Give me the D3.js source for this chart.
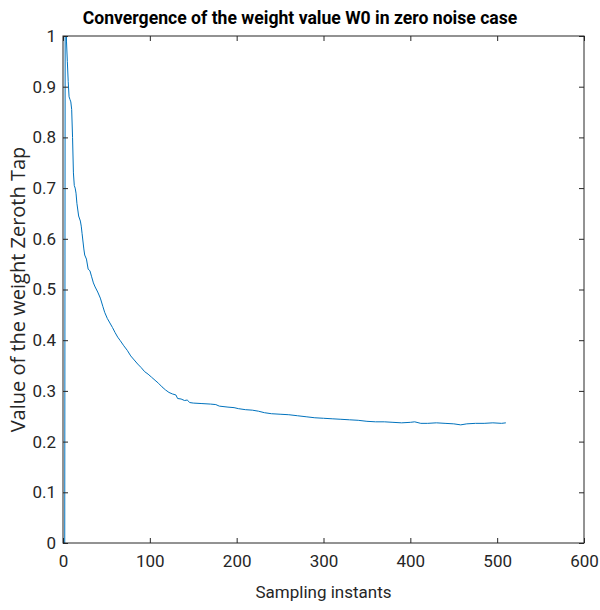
<!DOCTYPE html>
<html><head><meta charset="utf-8">
<script src="https://cdn.jsdelivr.net/npm/d3@7"></script>
<style>body{margin:0;background:#fff}svg{display:block}</style>
</head><body>
<svg id="c" width="600" height="610"></svg>
<script>
const title = "Convergence of the weight value W0 in zero noise case";
const xLabel = "Sampling instants";
const yLabel = "Value of the weight Zeroth Tap";
const xTicks = [0,100,200,300,400,500,600];
const yTicks = [0,0.1,0.2,0.3,0.4,0.5,0.6,0.7,0.8,0.9,1];
const sampleIdx = [0,1,2,3,4,5,6,7,8,9,10,11,12,13,14,15,16,18,20,21,22,24,25,27,29,31,33,35,37,40,43,46,48,51,54,57,60,63,66,70,74,78,82,86,90,94,98,102,106,110,114,118,122,126,130,132,136,140,143,146,150,160,170,176,180,190,197,202,210,218,225,232,240,250,260,270,280,290,300,310,320,330,340,350,360,370,380,390,400,405,412,420,430,440,450,458,465,475,485,495,505,510];
const w0 = [0,0,0,2.0,0.99,0.95,0.91,0.88,0.875,0.87,0.855,0.80,0.73,0.705,0.70,0.69,0.67,0.645,0.635,0.625,0.61,0.58,0.568,0.56,0.54,0.537,0.525,0.513,0.505,0.495,0.483,0.466,0.455,0.443,0.434,0.425,0.415,0.406,0.399,0.389,0.380,0.369,0.361,0.353,0.346,0.338,0.333,0.327,0.321,0.315,0.308,0.302,0.297,0.294,0.292,0.285,0.284,0.281,0.282,0.277,0.276,0.275,0.274,0.273,0.270,0.268,0.267,0.265,0.263,0.262,0.260,0.257,0.255,0.254,0.253,0.251,0.249,0.247,0.246,0.245,0.244,0.243,0.242,0.240,0.239,0.239,0.238,0.237,0.238,0.239,0.236,0.236,0.237,0.236,0.235,0.233,0.235,0.236,0.236,0.237,0.236,0.237];

const L = 63, R = 584, T = 36, B = 543;
const svg = d3.select("#c");
const x = d3.scaleLinear().domain([0,600]).range([L,R]);
const y = d3.scaleLinear().domain([0,1]).range([B,T]);
const font = "Roboto, 'Liberation Sans', sans-serif";

svg.append("defs").append("clipPath").attr("id","clip")
  .append("rect").attr("x",L).attr("y",T).attr("width",R-L).attr("height",B-T);

const pts = sampleIdx.map((d,i)=>[d,w0[i]]);
svg.append("path").datum(pts)
  .attr("clip-path","url(#clip)")
  .attr("fill","none").attr("stroke","#0072BD").attr("stroke-width",1)
  .attr("d", d3.line().x(d=>x(d[0])).y(d=>y(d[1])));

function styleAxis(g){
  g.select(".domain").remove();
  g.selectAll("line").attr("stroke","#262626");
  g.selectAll("text").attr("fill","#262626").style("font-family",font).style("font-size","17px");
}
svg.append("g").attr("transform",`translate(0,${B})`)
  .call(d3.axisBottom(x).tickValues(xTicks).tickFormat(d3.format("d")).tickSizeInner(-5).tickSizeOuter(0).tickPadding(12))
  .call(styleAxis);
svg.append("g").attr("transform",`translate(0,${T})`)
  .call(d3.axisTop(x).tickValues(xTicks).tickFormat("").tickSizeInner(-5).tickSizeOuter(0))
  .call(styleAxis);
svg.append("g").attr("transform",`translate(${L},0)`)
  .call(d3.axisLeft(y).tickValues(yTicks).tickFormat(d=>d===0||d===1?d3.format("d")(d):d3.format(".1f")(d)).tickSizeInner(-5).tickSizeOuter(0).tickPadding(7))
  .call(styleAxis);
svg.append("g").attr("transform",`translate(${R},0)`)
  .call(d3.axisRight(y).tickValues(yTicks).tickFormat("").tickSizeInner(-5).tickSizeOuter(0))
  .call(styleAxis);

svg.append("rect").attr("x",L).attr("y",T).attr("width",R-L).attr("height",B-T)
  .attr("fill","none").attr("stroke","#262626").attr("stroke-width",1);

svg.append("text").attr("x",300).attr("y",24).attr("text-anchor","middle")
  .style("font-family",font).style("font-weight","bold").style("font-size","17.6px")
  .attr("fill","#000").text(title);
svg.append("text").attr("x",(L+R)/2).attr("y",598).attr("text-anchor","middle")
  .style("font-family",font).style("font-size","17px").attr("fill","#262626").text(xLabel);
svg.append("text").attr("transform",`translate(25,${(T+B)/2}) rotate(-90)`).attr("text-anchor","middle")
  .style("font-family","'Open Sans', sans-serif").style("font-size","20px").attr("fill","#262626").text(yLabel);
</script>
</body></html>
